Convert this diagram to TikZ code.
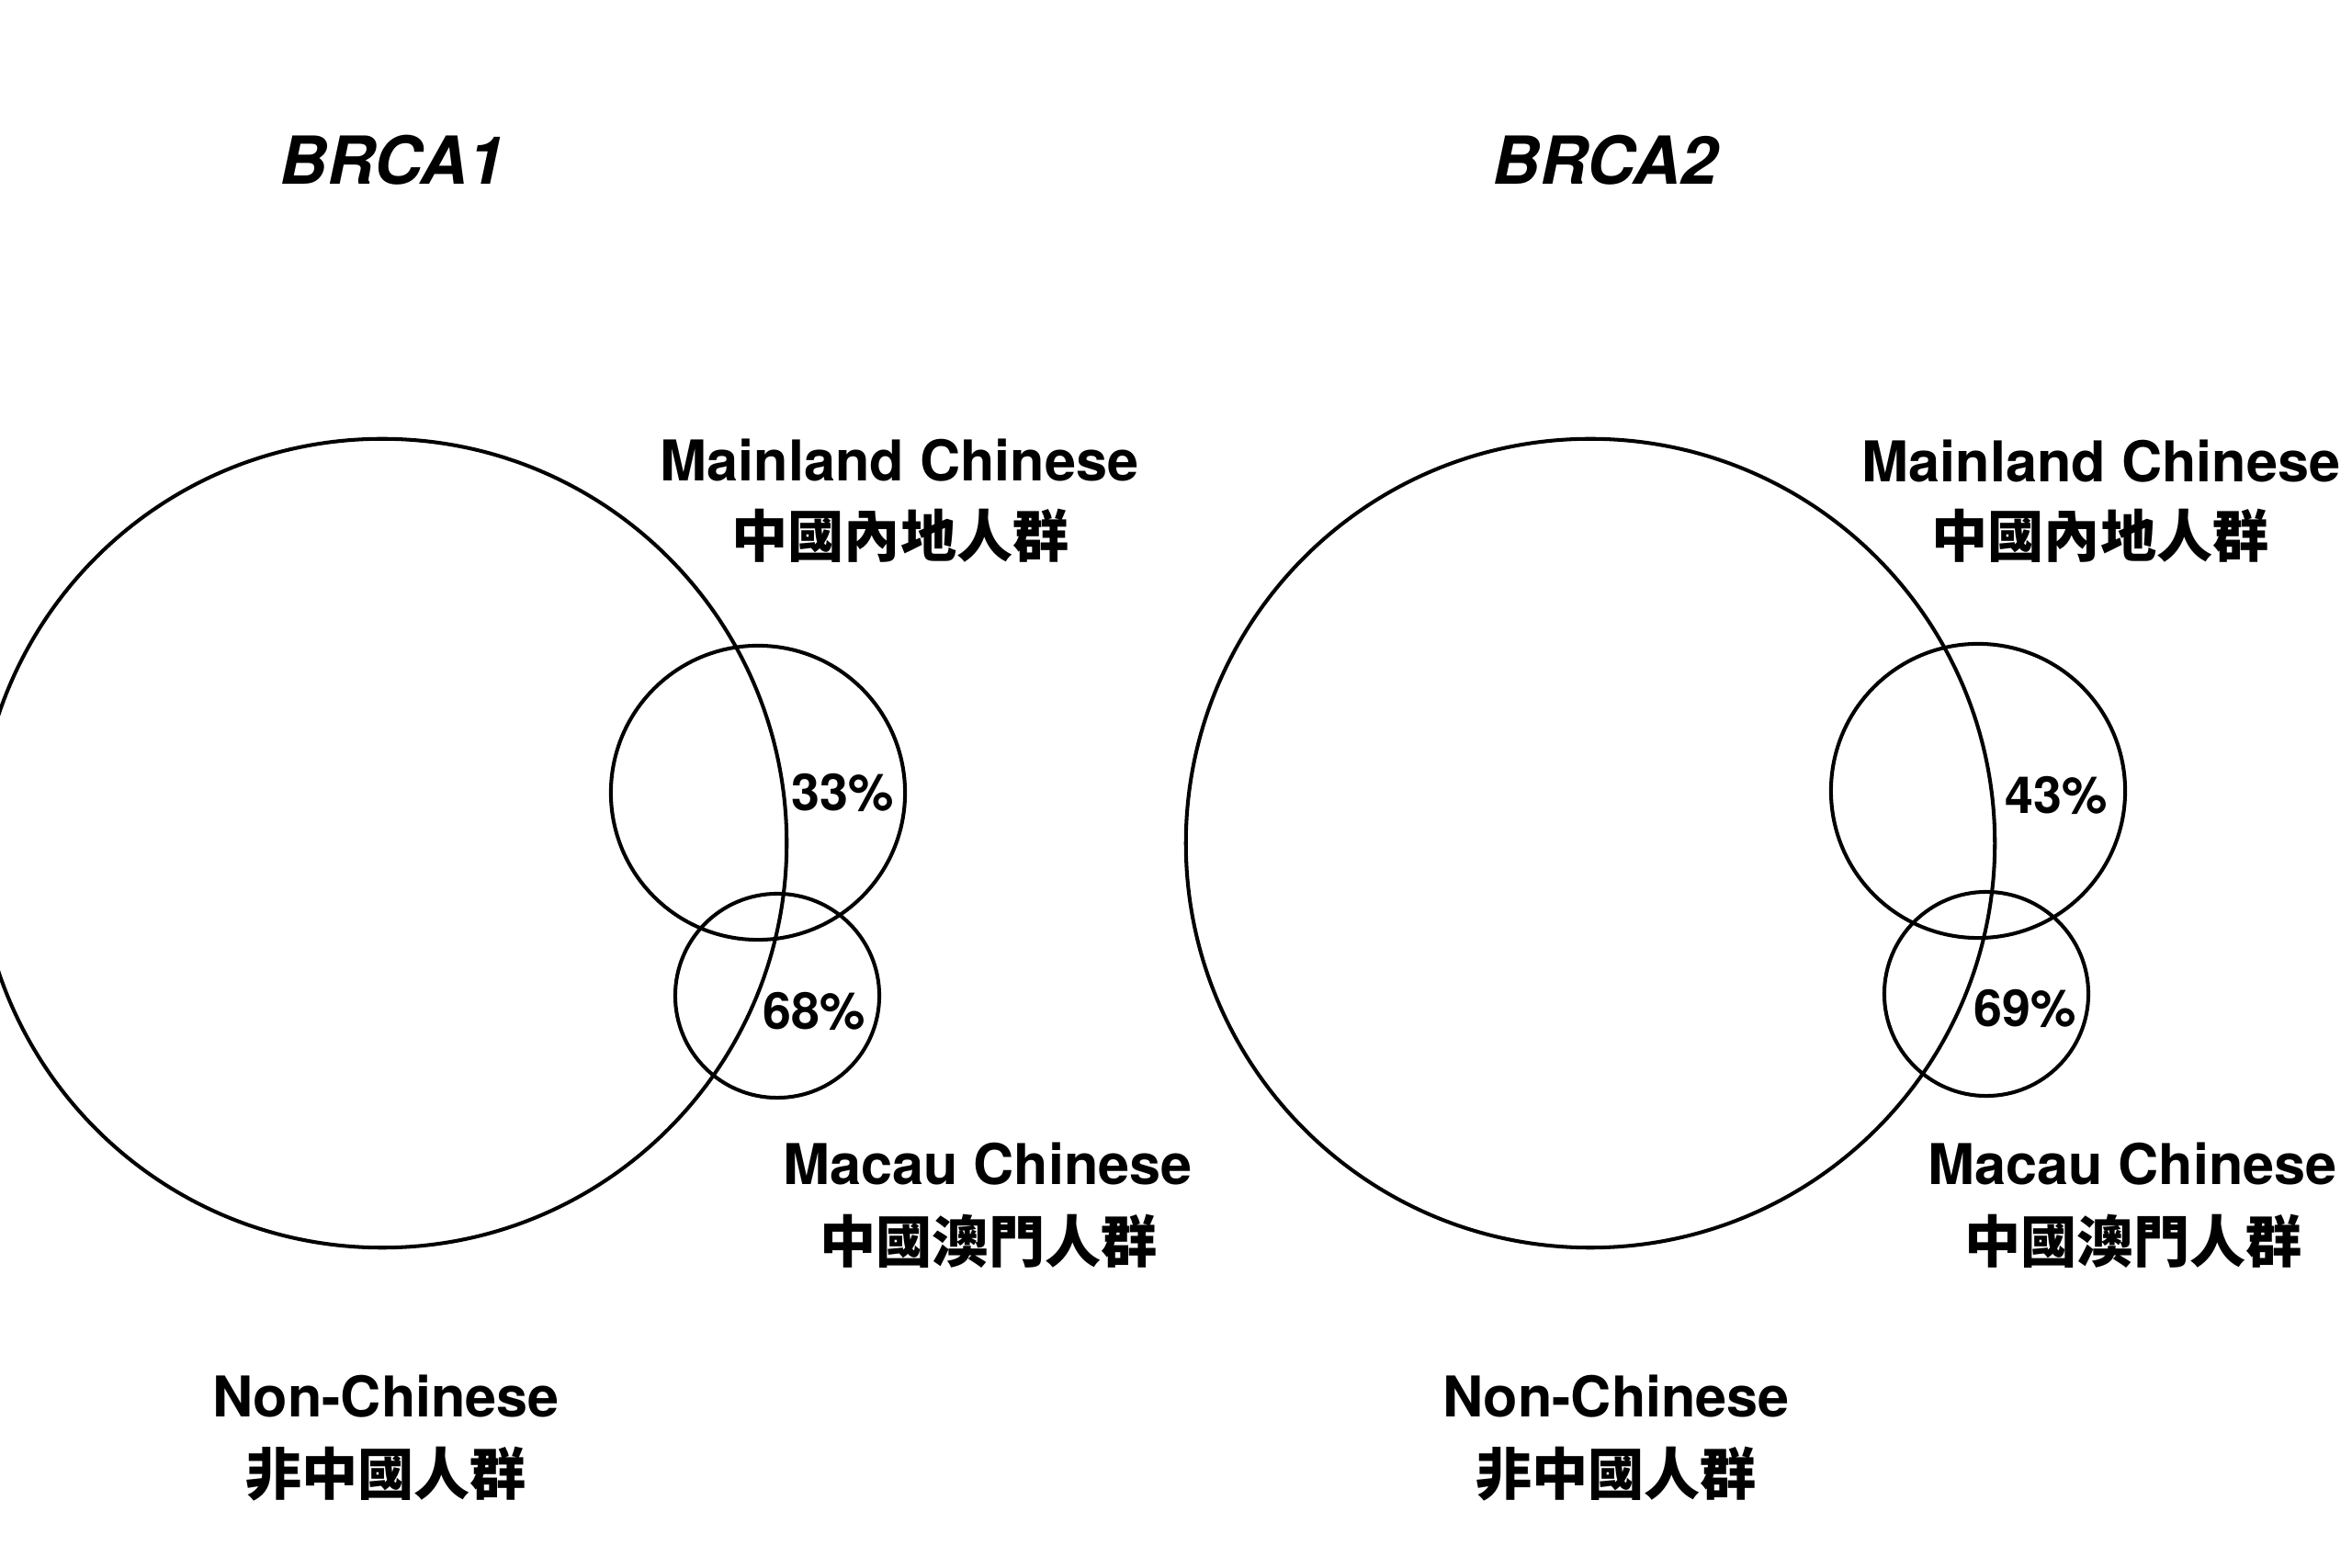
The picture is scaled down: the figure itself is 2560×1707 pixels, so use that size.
\documentclass[tikz,border=0pt]{standalone}
\usepackage{fontspec}
\setmainfont{TeX Gyre Heros}
\newfontfamily\cjk{Noto Sans CJK TC}
\begin{document}
\begin{tikzpicture}[x=0.01cm,y=-0.01cm]
\tikzset{
  venn/.style={circle, draw=black, line width=1.15pt, inner sep=0pt},
  lab/.style={font=\fontsize{17.4pt}{20pt}\selectfont\bfseries, inner sep=0pt, anchor=base},
  cjklab/.style={font=\fontsize{17.4pt}{20pt}\selectfont\cjk\bfseries, inner sep=0pt},
  pct/.style={font=\fontsize{15.8pt}{18pt}\selectfont\bfseries, inner sep=0pt, anchor=base},
  gene/.style={font=\fontsize{20.5pt}{24pt}\selectfont\bfseries\itshape, inner sep=0pt},
}
\fill[white] (0,0) rectangle (2560,1707);
\useasboundingbox (0,0) rectangle (2560,1707);

% ---- BRCA1 ----
\node[gene] (g1) at (427,174) {BRCA1};
\node[venn, minimum size=8.8cm] (non1) at (416,918) {};
\node[venn, minimum size=3.2cm] (main1) at (825,863) {};
\node[venn, minimum size=2.22cm] (mac1) at (846,1084) {};
\node[lab] (mainl1) at (979,524) {Mainland Chinese};
\node[cjklab] (mainc1) at (980,583) {中國內地人群};
\node[pct] (p33) at (917,883) {33\%};
\node[pct] (p68) at (886,1120) {68\%};
\node[lab] (macl1) at (1075,1289) {Macau Chinese};
\node[cjklab] (macc1) at (1076,1351) {中國澳門人群};
\node[lab] (nonl1) at (420,1542) {Non-Chinese};
\node[cjklab] (nonc1) at (420,1605) {非中國人群};

% ---- BRCA2 ----
\node[gene] (g2) at (1747,174) {BRCA2};
\node[venn, minimum size=8.8cm] (non2) at (1731,918) {};
\node[venn, minimum size=3.2cm] (main2) at (2153,861) {};
\node[venn, minimum size=2.22cm] (mac2) at (2162,1082) {};
\node[lab] (mainl2) at (2287,525) {Mainland Chinese};
\node[cjklab] (mainc2) at (2286,583) {中國內地人群};
\node[pct] (p43) at (2238,886) {43\%};
\node[pct] (p69) at (2204,1118) {69\%};
\node[lab] (macl2) at (2321,1289) {Macau Chinese};
\node[cjklab] (macc2) at (2322,1351) {中國澳門人群};
\node[lab] (nonl2) at (1759,1542) {Non-Chinese};
\node[cjklab] (nonc2) at (1759,1605) {非中國人群};
\end{tikzpicture}
\end{document}
